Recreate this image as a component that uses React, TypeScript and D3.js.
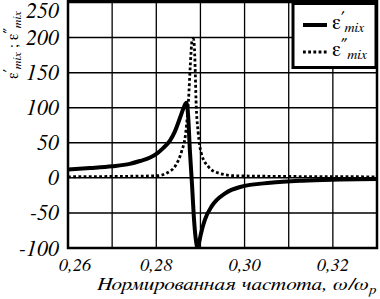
import React from "react";
import * as d3 from "d3";

const W = 380;
const H = 299;

const yTicks = [-100, -50, 0, 50, 100, 150, 200, 250];
const xGrid = [0.26, 0.27, 0.28, 0.29, 0.3, 0.31, 0.32, 0.33];
const xLabels = [0.26, 0.28, 0.3, 0.32];

const freqReal = [0.26, 0.265, 0.27, 0.274, 0.2763, 0.2786, 0.2802, 0.2815, 0.2831, 0.2842, 0.2854, 0.2862, 0.2868, 0.2872, 0.2876, 0.2881, 0.2885, 0.289, 0.2893, 0.2897, 0.2901, 0.291, 0.2926, 0.2956, 0.299, 0.3058, 0.3132, 0.3216, 0.33];
const epsReal = [12, 14, 16.5, 20, 24, 29, 35, 42, 53, 66, 86, 100, 107, 90, 40, -10, -55, -90, -99, -92, -80, -60, -40, -22, -13, -7, -4, -2.5, -1.5];

const freqImag = [0.26, 0.27, 0.2802, 0.2824, 0.2844, 0.2857, 0.2867, 0.2873, 0.2877, 0.2881, 0.2884, 0.2886, 0.2888, 0.289, 0.2895, 0.2902, 0.2918, 0.294, 0.2979, 0.31, 0.33];
const epsImag = [1.5, 2, 3, 7, 18, 37, 66, 111, 160, 195, 198, 190, 158, 111, 64, 35, 16, 7, 3, 2, 1.5];

const FONT = "FreeSerif, Liberation Serif, serif";

export default function App() {
  const x = d3.scaleLinear().domain([0.26, 0.33]).range([68, 377]);
  const y = d3.scaleLinear().domain([-100, 250]).range([248, 2.5]);

  const line = d3
    .line<[number, number]>()
    .x((d) => x(d[0]))
    .y((d) => y(d[1]))
    .curve(d3.curveMonotoneX);

  const realPts = freqReal.map((f, i) => [f, epsReal[i]] as [number, number]);
  const imagPts = freqImag.map((f, i) => [f, epsImag[i]] as [number, number]);

  const fmt = (v: number) => v.toFixed(2).replace(".", ",");
  const txt = { fontFamily: FONT } as React.CSSProperties;
  const itxt = { fontFamily: FONT, fontStyle: "italic" } as React.CSSProperties;

  return (
    <svg width={W} height={H} style={{ position: "absolute", left: 0, top: 0, background: "#fff" }}>
      <defs>
        <clipPath id="plot">
          <rect x={68} y={1} width={309} height={247} />
        </clipPath>
      </defs>
      <rect x={0} y={0} width={W} height={H} fill="#fff" />
      {yTicks.map((t) => (
        <line key={"gy" + t} x1={68} x2={377} y1={y(t)} y2={y(t)} stroke="#000" strokeWidth={1.5} />
      ))}
      {xGrid.map((t) => (
        <line key={"gx" + t} x1={x(t)} x2={x(t)} y1={1} y2={248} stroke="#000" strokeWidth={1.3} />
      ))}
      <g clipPath="url(#plot)">
        <path d={line(imagPts) || ""} fill="none" stroke="#000" strokeWidth={2.8} strokeDasharray="2.8,2.4" />
        <path d={line(realPts) || ""} fill="none" stroke="#000" strokeWidth={4} strokeLinejoin="round" />
      </g>
      <rect x={68} y={1} width={309} height={247} fill="none" stroke="#000" strokeWidth={2.5} />
      {yTicks.map((t) => (
        <text
          key={"ly" + t}
          x={59}
          y={Math.max(y(t), 10.5) + 7.5}
          textAnchor="end"
          style={{ ...itxt, fontSize: 22 }}
        >
          {t}
        </text>
      ))}
      {xLabels.map((t, i) => (
        <text
          key={"lx" + t}
          x={x(t) + (i === 0 ? 7 : 0)}
          y={271}
          textAnchor="middle"
          style={{ ...itxt, fontSize: 18.5 }}
        >
          {fmt(t)}
        </text>
      ))}
      <text
        x={97}
        y={290}
        textLength={279}
        lengthAdjust="spacingAndGlyphs"
        style={{ ...itxt, fontSize: 18.5 }}
      >
        Нормированная частота, ω/ω<tspan style={{ fontSize: 13 }} dy={4}>p</tspan>
      </text>
      <text transform="translate(18,79) rotate(-90)" style={{ ...txt, fontSize: 16 }}>
        ε<tspan style={{ fontSize: 12 }} dy={-6}>′</tspan>
        <tspan style={{ fontSize: 12, fontStyle: "italic" }} dy={9}>mix</tspan>
        <tspan dy={-3}> ; ε</tspan>
        <tspan style={{ fontSize: 12 }} dy={-6}>″</tspan>
        <tspan style={{ fontSize: 12, fontStyle: "italic" }} dy={9}>mix</tspan>
      </text>
      <rect x={293} y={3.5} width={83} height={64} fill="#fff" stroke="#000" strokeWidth={3} />
      <line x1={303} x2={327} y1={25} y2={25} stroke="#000" strokeWidth={4} />
      <line x1={303} x2={327} y1={52} y2={52} stroke="#000" strokeWidth={2.8} strokeDasharray="2.8,2.4" />
      <text x={332} y={29} style={{ ...txt, fontSize: 21 }}>
        ε<tspan style={{ fontSize: 14 }} dy={-8}>′</tspan>
        <tspan style={{ fontSize: 14, fontStyle: "italic" }} dy={11}>mix</tspan>
      </text>
      <text x={332} y={56} style={{ ...txt, fontSize: 21 }}>
        ε<tspan style={{ fontSize: 14 }} dy={-8}>″</tspan>
        <tspan style={{ fontSize: 14, fontStyle: "italic" }} dy={11}>mix</tspan>
      </text>
    </svg>
  );
}
